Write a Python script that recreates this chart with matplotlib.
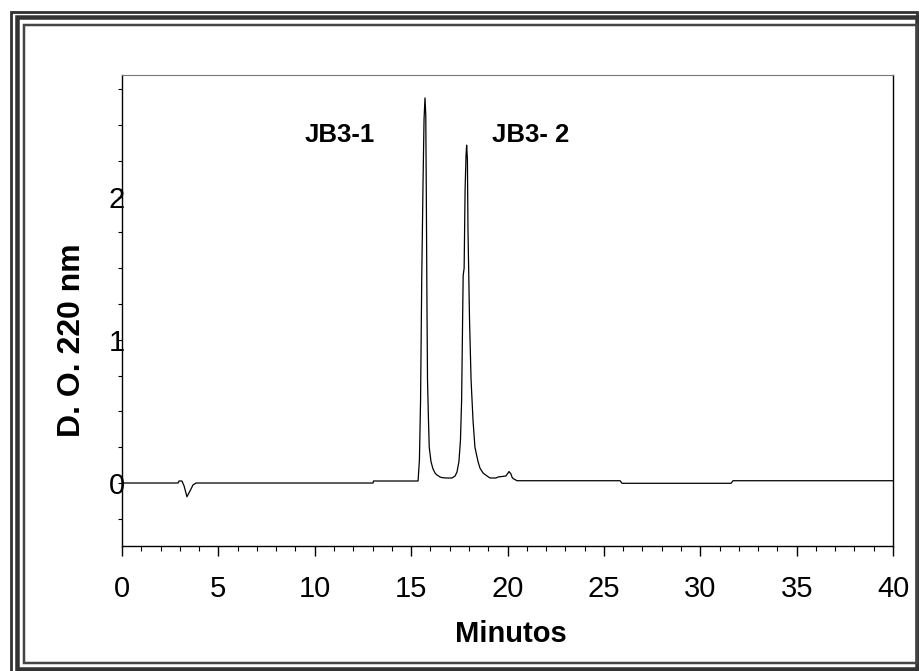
import matplotlib

matplotlib.use('agg')
import matplotlib.pyplot as plt
from matplotlib.patches import Rectangle
from matplotlib.ticker import MultipleLocator

plt.rcParams['font.family'] = ['Liberation Sans', 'DejaVu Sans']

# chromatogram (minutes, absorbance)
time_min = [0.0, 2.91, 2.96, 3.11, 3.22, 3.37, 3.58, 3.68, 3.84, 13.02, 13.05,
            15.36, 15.43, 15.49, 15.55, 15.62, 15.67, 15.72, 15.76, 15.79, 15.82,
            15.85, 15.90, 15.94, 16.03, 16.13, 16.24, 16.34, 16.50, 16.60, 16.81,
            17.12, 17.28, 17.38, 17.48, 17.56, 17.62, 17.66, 17.70, 17.75, 17.80,
            17.85, 17.88, 17.92, 17.95, 18.03, 18.11, 18.21, 18.31, 18.47, 18.57,
            18.73, 18.94, 19.09, 19.40, 19.51, 19.92, 20.08, 20.18, 20.23, 20.29,
            20.39, 20.49, 25.84, 25.94, 31.60, 31.70, 40.0]
absorb = [0.0, 0.0, 0.014, 0.014, -0.02, -0.096, -0.042, -0.014, 0.0, 0.0, 0.014,
          0.014, 0.16, 0.58, 1.42, 2.12, 2.54, 2.69, 2.57, 1.98, 1.28,
          0.72, 0.44, 0.25, 0.15, 0.10, 0.07, 0.056, 0.042, 0.038, 0.035,
          0.035, 0.049, 0.077, 0.15, 0.30, 0.58, 1.02, 1.45, 1.50, 2.05,
          2.29, 2.36, 2.26, 1.77, 1.14, 0.72, 0.44, 0.25, 0.15, 0.105,
          0.07, 0.049, 0.035, 0.035, 0.042, 0.049, 0.080, 0.063, 0.042, 0.031,
          0.024, 0.016, 0.016, -0.002, -0.002, 0.016, 0.016]

peak_labels = ['JB3-1', 'JB3- 2']
peak_label_x = [11.3, 21.2]
peak_label_y = [2.43, 2.43]

W, H = 919, 671
fig = plt.figure(figsize=(W / 100, H / 100), dpi=100)

# page border (double line frame)
def frame(x0, y0, x1, y1, lw, color):
    fig.patches.append(Rectangle((x0 / W, 1 - y1 / H), (x1 - x0) / W, (y1 - y0) / H,
                                 transform=fig.transFigure, fill=False,
                                 edgecolor=color, linewidth=lw * 0.72))

frame(10.5, 11.5, 917, 680, 2.8, '#333333')
frame(16.5, 16.5, 917, 669, 4.5, '#333333')
frame(23.5, 25, 917, 663, 2.5, '#444444')

ax = fig.add_axes([122 / W, 1 - 546 / H, (893 - 122) / W, (546 - 75) / H])
ax.plot(time_min, absorb, color='black', linewidth=0.9)

ax.set_xlim(0, 40)
ax.set_ylim(-0.44, 2.85)
ax.xaxis.set_major_locator(MultipleLocator(5))
ax.xaxis.set_minor_locator(MultipleLocator(1))
ax.set_yticks([0, 1, 2])
ax.yaxis.set_minor_locator(MultipleLocator(0.25))

ax.tick_params(axis='x', which='major', direction='out', length=7, width=1,
               labelsize=21, pad=14)
ax.tick_params(axis='x', which='minor', direction='out', length=3.5, width=0.8)
ax.tick_params(axis='y', which='major', direction='out', length=3, width=0.8,
               labelsize=21, pad=-5)
ax.tick_params(axis='y', which='minor', direction='out', length=3, width=0.8)

for side in ['left', 'bottom', 'right']:
    ax.spines[side].set_linewidth(1)
ax.spines['top'].set_color('#777777')

ax.set_xlabel('Minutos', fontsize=21, fontweight='bold')
ax.xaxis.set_label_coords(0.504, -0.157)
ax.set_ylabel('D. O. 220 nm', fontsize=23, fontweight='bold')
ax.yaxis.set_label_coords(-0.045, 0.437)

for name, x, y in zip(peak_labels, peak_label_x, peak_label_y):
    ax.text(x, y, name, fontsize=18.5, fontweight='bold', ha='center', va='center')

plt.savefig('out.png', dpi=100)
